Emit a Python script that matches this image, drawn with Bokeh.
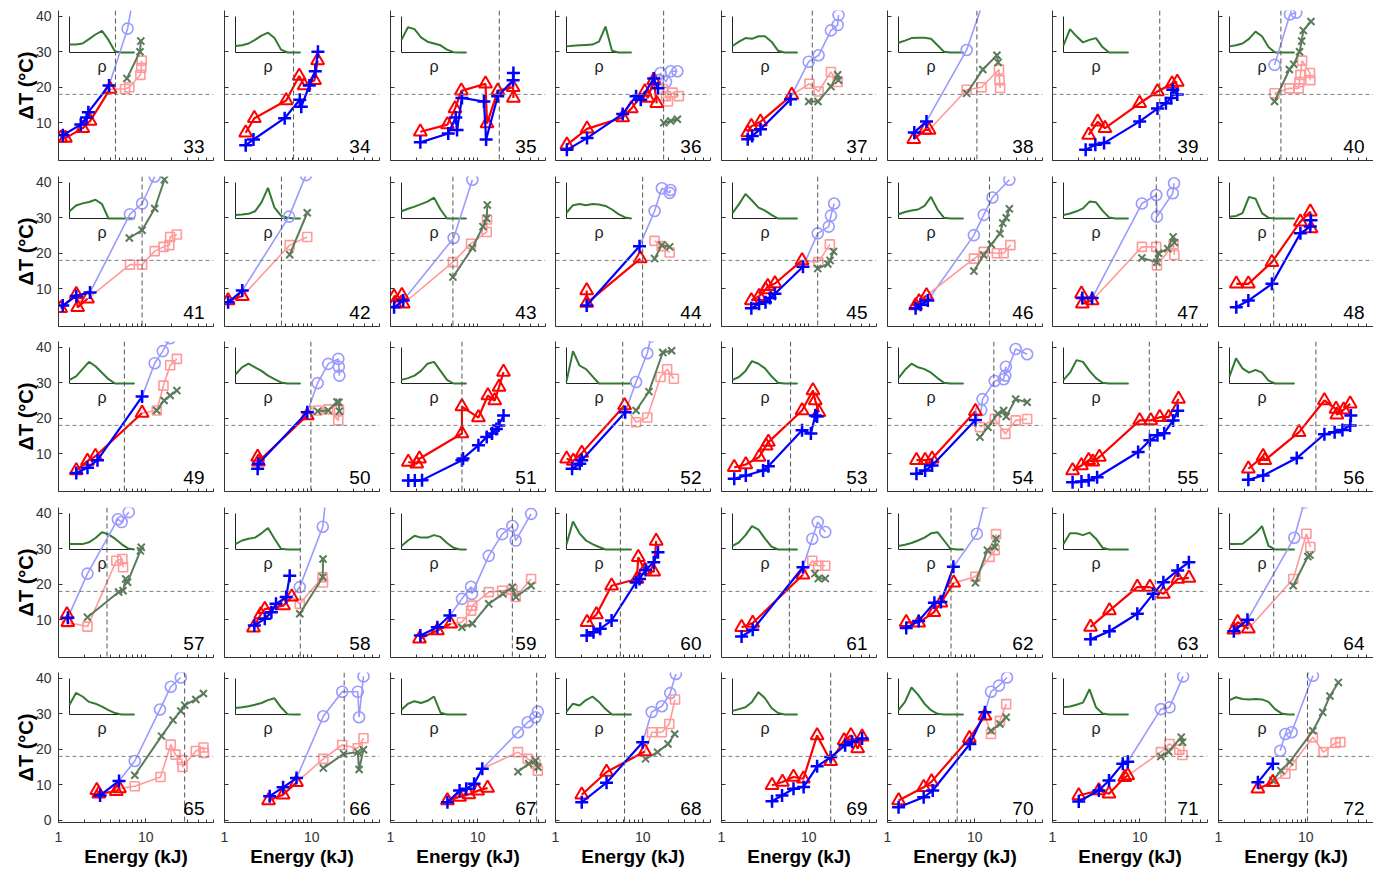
from bokeh.plotting import figure
from bokeh.layouts import gridplot
from bokeh.models import Range1d, LinearScale, FixedTicker, Span, Label, NumeralTickFormatter
from bokeh.embed import file_html
from bokeh.resources import INLINE

PANEL_IDS = [33, 34, 35, 36, 37, 38, 39, 40,
             41, 42, 43, 44, 45, 46, 47, 48,
             49, 50, 51, 52, 53, 54, 55, 56,
             57, 58, 59, 60, 61, 62, 63, 64,
             65, 66, 67, 68, 69, 70, 71, 72]
N_COLS = 8

# ---------------- red triangles ----------------
RED_E = {
    33: [1.06, 1.2, 1.9, 2.3, 3.9], 34: [1.75, 2.2, 5.1, 7.2, 8.2, 10.8, 11.7],
    35: [2.2, 4.5, 5.5, 6.5, 12.3, 12.8, 17, 25.5, 25.7], 36: [1.35, 2.3, 5.9, 7.4, 10.6, 11.5, 13.4, 14.5],
    37: [2.0, 2.2, 2.8, 6.4], 38: [2.0, 2.7, 3.0], 39: [2.6, 3.3, 4.0, 10, 16, 23.5, 27],
    41: [1.06, 1.6, 1.66, 2.15], 42: [1.1, 1.6], 43: [1.1, 1.12, 1.35, 1.4], 44: [2.28, 2.28, 9.4],
    45: [2.2, 2.7, 3.2, 3.4, 4.1, 8.4], 46: [2.1, 2.3, 2.8], 47: [2.15, 2.2, 2.85],
    48: [1.6, 2.2, 4.1, 8.7, 11.3, 11.5], 49: [1.6, 2.15, 2.65, 9.1], 50: [2.4, 2.45, 8.9],
    51: [1.6, 2.0, 2.15, 6.6, 6.6, 10.2, 13.1, 15.7, 17.6, 19.8], 52: [1.34, 1.6, 2.0, 6.2],
    53: [1.4, 1.9, 2.7, 3.25, 3.45, 8.4, 11.2, 11.9, 13.1], 54: [2.15, 2.7, 3.25, 10.2],
    55: [1.7, 2.15, 2.6, 2.9, 3.45, 10, 13.4, 17, 21.5, 27.9],
    56: [2.2, 3.25, 3.4, 8.4, 16.4, 22.3, 22.8, 27.3, 32.4], 57: [1.25, 1.28],
    58: [2.15, 2.6, 2.9, 4.75, 5.9], 59: [2.15, 3.45, 4.9],
    60: [2.3, 2.95, 4.4, 8.6, 8.9, 10.6, 13.4, 14.3], 61: [1.7, 2.28, 8.6],
    62: [1.64, 2.28, 3.4, 4.1, 5.75], 63: [2.73, 4.5, 9.4, 13.1, 18.7, 27.3, 36.7],
    64: [1.5, 1.66, 2.2], 65: [2.75, 2.9, 4.6, 5.0], 66: [3.2, 4.7, 6.7],
    67: [4.5, 6.2, 7.9, 10, 13], 68: [2.0, 3.85, 10.6],
    69: [3.8, 5.0, 6.7, 8.7, 12.5, 17.9, 25.5, 30.5, 36.5, 41], 70: [1.34, 2.6, 3.2, 8.7, 13.1],
    71: [2.0, 3.4, 4.45, 6.75, 7.3], 72: [2.83, 4.2],
}
RED_T = {
    33: [5.7, 5.7, 8.5, 10.5, 19.5], 34: [7.2, 11.3, 16.3, 23.2, 20.5, 22, 27.5],
    35: [7.5, 9.5, 14, 19, 21, 9.8, 19, 20, 17], 36: [3.8, 8.3, 11.5, 14, 18.8, 17, 22, 15.5],
    37: [7.3, 9, 10.3, 17.8], 38: [5.4, 8, 8], 39: [6.6, 10.3, 8.5, 15.5, 18.8, 21, 21.5],
    41: [4.5, 8.5, 4.8, 7.2], 42: [6.7, 7.9], 43: [7.8, 6, 8.2, 5.8], 44: [9.5, 6, 18.5],
    45: [6.7, 7.9, 9.8, 10.7, 11.5, 18], 46: [5.3, 6.4, 8.1], 47: [8.6, 5.8, 6.7],
    48: [11.4, 11.4, 17.5, 28.9, 31.7, 27], 49: [5.3, 8, 9.3, 21.5], 50: [9.1, 7.8, 20.8],
    51: [7.7, 7.2, 8.6, 15.7, 23.3, 20.2, 26.4, 25, 28.8, 33], 52: [8.6, 8, 10.2, 23.6],
    53: [6.2, 7, 9.1, 12.3, 13.3, 22.2, 27.8, 25, 21.7], 54: [8.2, 8.2, 8.6, 22],
    55: [5.3, 6.7, 8.2, 7.8, 9.1, 19.4, 19.4, 20.3, 20.3, 25.4],
    56: [5.8, 9.3, 8.2, 16.1, 25, 22.6, 21, 22.4, 24.1], 57: [11.5, 9.3],
    58: [7.8, 11.5, 13, 14, 16.5], 59: [4.7, 7, 8.9],
    60: [9.3, 11.5, 19.6, 21.5, 27.6, 24, 23.5, 32.2], 61: [7.9, 9.1, 22.7],
    62: [9.3, 9.2, 12.1, 14.8, 20.4], 63: [8, 12.6, 19.2, 19.2, 17.3, 21.5, 21.8],
    64: [7.2, 9.3, 7.5], 65: [8.5, 7.5, 8.2, 9.0], 66: [5.6, 7.2, 10.7],
    67: [5.6, 6.6, 7.3, 8.3, 9.1], 68: [7.2, 13.6, 19.4],
    69: [9.9, 10.8, 12.2, 11.7, 23.9, 16.6, 22.5, 23.9, 20.2, 23.5], 70: [5.6, 9.3, 10.9, 23.1, 29.4],
    71: [7, 8.4, 7.5, 12.1, 12.6], 72: [8.9, 10.7],
}

# ---------------- blue plus ----------------
BLUE_E = {
    33: [1.12, 1.8, 2.1, 2.2, 3.8], 34: [1.75, 2.15, 4.9, 7.3, 7.6, 9.4, 11.0, 11.8],
    35: [2.2, 4.6, 5.6, 5.8, 6.6, 11.8, 12.5, 17, 25.5, 25.7], 36: [1.35, 2.3, 5.9, 8.4, 9.5, 13.4, 15],
    37: [2.0, 2.25, 2.8, 6.2], 38: [2.03, 2.8], 39: [2.4, 3.1, 3.9, 10, 16, 20, 23, 24, 27],
    41: [1.12, 1.6, 2.3], 42: [1.1, 1.6], 43: [1.1, 1.4], 44: [2.28, 9.2],
    45: [2.2, 2.7, 3.2, 3.6, 4.1, 8.6], 46: [2.1, 2.4, 2.9], 47: [2.2, 2.85],
    48: [1.6, 2.2, 4.1, 8.7, 11.3, 11.5], 49: [1.6, 2.15, 2.8, 9.1], 50: [2.4, 2.45, 8.9],
    51: [1.6, 1.9, 2.3, 6.6, 6.8, 10.2, 12.7, 14.6, 16.4, 17.4, 19.8], 52: [1.55, 1.9, 2.0, 6.3],
    53: [1.4, 1.9, 3.0, 3.45, 8.4, 10.6, 11.9, 12.5], 54: [2.15, 2.7, 3.25, 10.2],
    55: [1.7, 2.15, 2.6, 3.25, 9.6, 13.1, 16, 19.1, 24.2, 27.3],
    56: [2.2, 3.25, 7.9, 16.4, 21.5, 26.4, 32.4, 33], 57: [1.28],
    58: [2.2, 2.9, 3.45, 3.9, 5.1, 5.6], 59: [2.2, 3.45, 4.8],
    60: [2.28, 2.73, 3.26, 4.4, 8.4, 9.2, 10.8, 13.4, 15], 61: [1.7, 2.28, 8.6],
    62: [1.64, 2.28, 3.45, 4.1, 5.7], 63: [2.73, 4.5, 9.4, 14.3, 18.7, 27.3, 36.7],
    64: [1.5, 2.15], 65: [3.0, 4.95], 66: [3.3, 4.7, 6.7], 67: [4.5, 6.2, 7.4, 9.1, 11.3],
    68: [2.0, 3.85, 10], 69: [3.8, 4.95, 6.7, 8.75, 12.5, 17.9, 26.2, 31.5, 41],
    70: [1.34, 2.6, 3.3, 8.8, 13.1], 71: [2.0, 3.4, 4.45, 6.4, 7.3], 72: [2.83, 4.2],
}
BLUE_T = {
    33: [6.5, 9.5, 11.5, 13, 20.5], 34: [3.7, 5.3, 11.3, 16.5, 14.5, 20.5, 24.5, 30],
    35: [4.5, 7, 11.5, 8, 17, 16, 5.3, 17.5, 22, 24], 36: [2.4, 5.7, 12.5, 17.5, 16.5, 22.5, 19.7],
    37: [5.4, 6.3, 8.2, 16.6], 38: [7.3, 10.4], 39: [2.4, 3.8, 4.3, 10.4, 14, 15.5, 17, 19.3, 18],
    41: [5.3, 8, 9], 42: [6.2, 9.5], 43: [4.8, 6.7], 44: [5.3, 22],
    45: [4.5, 5.8, 6.2, 7.4, 8.6, 16.2], 46: [4.5, 5.5, 6.7], 47: [7.4, 7.4],
    48: [4.8, 6.7, 11.4, 25.6, 27.5, 29.3], 49: [4.6, 6.1, 8.2, 26.1], 50: [5.8, 7.2, 21.7],
    51: [2.5, 2.5, 2.6, 8.2, 8.7, 12.4, 14.7, 15.7, 17, 18, 20.8], 52: [5.8, 7.2, 8.2, 21.7],
    53: [3, 3.9, 5.3, 6.5, 16.6, 15.7, 20.8, 20.5], 54: [4.4, 5.3, 6.7, 19.5],
    55: [2, 2.2, 2.6, 3.4, 10.5, 13.8, 15.2, 15.8, 19.4, 22.1],
    56: [2.7, 3.9, 8.8, 15.5, 16.1, 16.7, 18, 20.8], 57: [10.6],
    58: [8.4, 10.3, 12.1, 14.5, 16.4, 22.4], 59: [5.6, 7.9, 11.2],
    60: [5.6, 6.5, 7.5, 9.8, 20.6, 21.5, 24, 26.2, 29], 61: [5.3, 7.2, 24.8],
    62: [7.7, 9.7, 14.8, 15, 24.9], 63: [4.5, 6.8, 11.7, 17.3, 20.6, 23.9, 26.2],
    64: [6.8, 10], 65: [7, 11.1], 66: [6.8, 9.3, 11.9], 67: [5.1, 8.4, 8.9, 10.3, 14.5],
    68: [5.1, 10.6, 22], 69: [5.4, 7, 8.9, 9.4, 15.2, 17.8, 21.1, 22.1, 23],
    70: [3.7, 6.5, 8.4, 21.5, 30.4], 71: [5.3, 8.4, 11.2, 15.9, 16.5], 72: [10.7, 15.9],
}

# ---------------- light blue circles ----------------
LAV_E = {
    33: [6.2, 7.5], 36: [15, 16, 18.5, 21, 25], 37: [10, 13, 18, 21.5, 22], 38: [8.1, 12.5],
    40: [4.4, 6.6, 7.8], 41: [6.6, 9.1, 12.7], 42: [5.5, 8.6], 43: [5.3, 8.7],
    44: [13.7, 16.6, 20.4, 20.8], 45: [12.7, 17, 18, 19.6], 46: [9.8, 12.7, 16, 25],
    47: [10.6, 15.5, 15.8, 24, 24.8], 49: [12.7, 15.7, 19], 50: [11.7, 15.5, 20.2, 20.5, 20.8],
    52: [8.4, 11.3, 12.5], 54: [11.9, 12.3, 17, 21.5, 22.8, 22.5, 29.5, 40],
    57: [2.15, 4.8, 5.3, 6.4], 58: [7.3, 13.4, 14.5], 59: [6.6, 8.4, 8.6, 13.4, 19.1, 25, 27.3, 41],
    61: [11, 12.7, 15.5], 62: [10.6, 13], 64: [7.4, 9.6], 65: [7.5, 14.6, 19.4, 25.3],
    66: [13.6, 22.4, 33.8, 35, 39.3], 67: [29, 37.5, 46, 49], 68: [12.7, 16.6, 20.7, 24],
    70: [15.4, 19, 23.5], 71: [17.5, 22, 31.5], 72: [5.1, 5.85, 6.9, 12.1],
}
LAV_T = {
    33: [36.5, 48], 36: [22, 24, 21.5, 24.5, 24.5], 37: [27.2, 29, 36, 37.5, 40.3], 38: [30.5, 44],
    40: [26.3, 40.5, 41], 41: [31, 34, 41.6], 42: [30.3, 42], 43: [24.3, 40.7],
    44: [31.9, 38.3, 37, 37.8], 45: [25.6, 27.5, 30.6, 34], 46: [25.1, 30.8, 35.7, 40.7],
    47: [34, 36.4, 30.3, 36.9, 39.7], 49: [35.5, 38.9, 42.5], 50: [29.9, 35.3, 36.7, 34.5, 32],
    52: [30.2, 38.3, 43], 54: [22.3, 25.4, 30.5, 31, 34.5, 32, 39.5, 38],
    57: [23, 38.3, 37.5, 40.3], 58: [19.2, 36.2, 44], 59: [15.9, 19.3, 17.3, 28, 34.1, 36.4, 32.3, 39.8],
    61: [32.8, 37.5, 34.7], 62: [34.2, 43], 64: [33.1, 43], 65: [16.7, 31.2, 37.6, 40.2],
    66: [29.3, 36.2, 36.2, 29, 40.5], 67: [24.8, 27.6, 29, 30.6], 68: [30.5, 32.1, 35.8, 41.2],
    70: [36.2, 37.9, 40.2], 71: [31.3, 31.8, 40.5], 72: [19.6, 24.3, 24.8, 40.7],
}
LAV_FROM = {33: "blue", 37: "red", 38: "blue", 41: "blue", 42: "blue", 43: "blue", 44: "blue",
            45: "blue", 46: "blue", 47: "blue", 49: "blue", 50: "blue", 52: "blue", 54: "blue",
            57: "blue", 58: "red", 59: "blue", 61: "blue", 62: "blue", 64: "blue", 65: "blue",
            66: "blue", 67: "blue", 68: "blue", 70: "blue", 71: "blue"}

# ---------------- pink squares ----------------
PINK_E = {
    33: [5.8, 6.5, 8.7, 8.9, 9.0], 36: [17, 18.5, 19.5, 22, 26], 37: [10.2, 13, 18, 21.5],
    38: [8.1, 12, 19, 19.3, 19.6], 40: [4.4, 6.5, 8.3, 8.5, 8.7, 9.1, 11.2, 11.3],
    41: [6.6, 9.1, 12.7, 16, 18.7, 19.1, 22.8], 42: [5.6, 8.9], 43: [5.2, 8.4, 12.7, 12.8],
    44: [13.7, 16.5, 20.4], 45: [12.9, 17.5], 46: [9.8, 12.7, 18, 21.5, 25.7],
    47: [10.6, 15.5, 15.8, 24.5, 25], 49: [13.4, 16, 19.1, 22.8], 50: [11.7, 15.5, 20.2, 20.6],
    52: [8.4, 11.3, 16, 19.1, 22.8], 54: [11.5, 17, 22.5, 29.5, 40], 57: [1.25, 2.15, 4.6, 5.4, 5.5],
    58: [7.3, 13.3, 13.5], 59: [6.6, 8.4, 8.7, 13.4, 19.1, 25, 27.3, 41], 61: [11, 12.9, 15.5],
    62: [10.2, 14.8, 17, 17.6], 64: [7.2, 10.2, 11.3],
    65: [7.5, 14.8, 19.4, 22, 26, 26.5, 37.6, 46, 46.5], 66: [13.6, 22.4, 33.8, 39.3],
    67: [29, 37.5, 46, 49], 68: [12.8, 16.6, 20.2, 23.5], 70: [15.4, 19.5, 23],
    71: [17.5, 22, 28.5, 31], 72: [5.85, 6.9, 12.1, 16, 22, 25],
}
PINK_T = {
    33: [19.5, 20, 23.5, 25.5, 27.5], 36: [19.5, 17.5, 16, 18.5, 17.5], 37: [21, 18.8, 24.3, 21.5],
    38: [19.3, 20, 25, 22, 19.8], 40: [18.3, 19.7, 19.7, 21.5, 23.5, 27.5, 24, 22],
    41: [16.8, 16.8, 20.6, 21.8, 22.3, 24.6, 25.3], 42: [22.3, 24.6], 43: [17.5, 22.7, 26, 29.5],
    44: [23.5, 22, 20.2], 45: [17.5, 22.5], 46: [18.5, 20.4, 20, 20, 22.3],
    47: [21.8, 21.8, 16.6, 22.5, 19.5], 49: [22.2, 29.2, 34.9, 36.7], 50: [22.2, 22.5, 19.4, 22.3],
    52: [18.9, 20.2, 31.6, 33.8, 31.1], 54: [17.5, 19.8, 15.6, 19.4, 19.8], 57: [9.3, 8.1, 26.6, 27.1, 24.8],
    58: [14.5, 22, 20.5], 59: [9.3, 12.6, 14, 17.8, 18.2, 18.5, 16.4, 21.5], 61: [26.6, 25.2, 25.2],
    62: [22.1, 27.7, 29.6, 34.1], 64: [21.5, 34.2, 30.5],
    65: [9.6, 12.2, 21.3, 18.5, 17, 15, 19.5, 20.5, 19], 66: [17.3, 21.2, 20.3, 23.1],
    67: [19.2, 17.3, 15.9, 14], 68: [24.8, 24.8, 27.1, 34], 70: [24.3, 28, 32.7],
    71: [19.2, 21.5, 19.9, 18.4], 72: [13.1, 15.5, 23.4, 19.2, 21.8, 22],
}
PINK_FROM = {33: "red", 37: "red", 38: "red", 41: "red", 42: "red", 43: "red", 45: "red", 46: "red",
             47: "red", 49: "red", 52: "red", 58: "red", 59: "red", 61: "red", 62: "red", 64: "red",
             65: "red", 66: "red", 67: "blue", 68: "red", 70: "red", 71: "red", 72: "red"}

# ---------------- grey-green crosses ----------------
GREY_E = {
    33: [6.1, 8.6, 8.8], 36: [17.5, 21, 25], 37: [10, 12.8, 18, 21.5, 22], 38: [8.1, 12.4, 18, 18.6],
    40: [4.4, 6.5, 7.3, 8.5, 9.0, 9.4, 11.5], 41: [6.5, 9.1, 12.7, 16.4], 42: [5.6, 8.9],
    43: [5.2, 8.7, 11.5, 12.7, 12.9], 44: [13.7, 16.6, 20.4], 45: [12.7, 16.6, 17.6, 19.3],
    46: [9.8, 12.7, 15.5, 19.5, 21, 23, 25], 47: [10.6, 15.8, 16.5, 21, 24.2, 25],
    49: [13.4, 16.3, 19.1, 22.8], 50: [11.7, 15.5, 19.5, 20.5, 20.8], 52: [8.4, 11.8, 17, 21.5],
    54: [11.5, 14.2, 18.5, 21.5, 23, 29.5, 40], 57: [2.15, 4.9, 5.5, 5.9, 6.2, 8.7, 8.9],
    58: [7.3, 13.4, 13.5], 59: [6.6, 8.7, 13.4, 19.5, 25, 27.5, 41], 61: [11.8, 12.9, 15.5],
    62: [10.2, 14, 17, 17.6], 64: [7.2, 10.6, 11.2], 65: [7.5, 15.2, 20.6, 25.3, 28, 37.6, 46],
    66: [13.6, 23.3, 33.8, 35, 39.3], 67: [29, 38.5, 46, 49], 68: [10.8, 14.8, 19.5, 23.3],
    70: [15.4, 19.5, 23], 71: [17.5, 21.5, 30, 31], 72: [4.2, 5.2, 6.55, 12.1, 15.7, 19, 23.7],
}
GREY_T = {
    33: [22.5, 30, 33], 36: [10, 10.5, 11], 37: [16, 16, 20.2, 23.5, 22], 38: [18.3, 25, 29, 27],
    40: [16, 25, 26.5, 30, 33, 36, 38.5], 41: [24.3, 26.5, 32.6, 40.7], 42: [19.6, 31.4],
    43: [13.3, 21.5, 27.5, 29.8, 33.6], 44: [18.5, 22.3, 21.8], 45: [15.7, 17, 18, 20.5],
    46: [15, 19.5, 22.5, 25.5, 28.5, 30, 32.5], 47: [18.7, 17.5, 20, 21.3, 24.6, 23],
    49: [22.2, 25, 26.4, 27.8], 50: [22, 22.2, 24.6, 24.5, 22], 52: [22.2, 27.5, 38.5, 39],
    54: [14.7, 17.5, 21.3, 22.2, 20.5, 25.4, 24.5], 57: [10.7, 17.8, 18.2, 21.5, 20.6, 29.4, 30.4],
    58: [11.7, 22, 27.1], 59: [7.9, 8.9, 14.5, 17.3, 19.2, 16.4, 19.6], 61: [23, 21.6, 21.6],
    62: [20.4, 29.6, 30.5, 32.8], 64: [19.6, 27.8, 28.2], 65: [12.7, 23.7, 28.2, 30.8, 32.4, 34, 35.7],
    66: [14.7, 18.7, 19.2, 14.3, 19.9], 67: [13.7, 15.9, 16.8, 15], 68: [17.3, 19.2, 21.5, 24.3],
    70: [25.2, 27.1, 29], 71: [18, 19.3, 23.4, 22], 72: [11.2, 14, 16.4, 25.2, 30.4, 35, 38.8],
}

# ---------------- reference lines ----------------
VLINE_E = {33: 4.5, 34: 6.2, 35: 17.7, 36: 17.4, 37: 11, 38: 10.6, 39: 17, 40: 5.2,
           41: 9.1, 42: 4.5, 43: 5.2, 44: 10, 45: 12.7, 46: 14.8, 47: 15.5, 48: 4.3,
           49: 5.7, 50: 9.8, 51: 6.6, 52: 5.9, 53: 6.2, 54: 16.6, 55: 12.9, 56: 13.1,
           57: 3.6, 58: 7.4, 59: 25, 60: 5.55, 61: 6, 62: 5.35, 63: 15.1, 64: 4.3,
           65: 28, 66: 23.6, 67: 47.5, 68: 6.2, 69: 17.9, 70: 6.3, 71: 19.7, 72: 10.5}
HLINE_T = 18.0

# ---------------- inset density curves (rho) ----------------
DENSITY_T = [0.0, 0.1, 0.2, 0.3, 0.4, 0.5, 0.6, 0.7, 0.8, 0.9, 1.0]
DENSITY = {
    33: [0.22, 0.22, 0.25, 0.37, 0.5, 0.6, 0.35, 0.03, 0, 0, 0],
    34: [0.18, 0.2, 0.25, 0.35, 0.47, 0.55, 0.4, 0.08, 0, 0, 0],
    35: [0.35, 0.7, 0.65, 0.42, 0.3, 0.25, 0.2, 0.08, 0.01, 0, 0],
    36: [0.17, 0.19, 0.2, 0.21, 0.22, 0.3, 0.72, 0.05, 0, 0, 0],
    37: [0.18, 0.3, 0.4, 0.38, 0.45, 0.45, 0.3, 0.05, 0, 0, 0],
    38: [0.27, 0.33, 0.4, 0.41, 0.41, 0.38, 0.2, 0.02, 0, 0, 0],
    39: [0.2, 0.65, 0.45, 0.28, 0.35, 0.4, 0.15, 0, 0, 0, 0],
    40: [0.17, 0.2, 0.25, 0.38, 0.58, 0.45, 0.15, 0, 0, 0, 0],
    41: [0.2, 0.36, 0.42, 0.46, 0.52, 0.4, 0, 0, 0, 0, 0],
    42: [0.1, 0.11, 0.13, 0.2, 0.45, 0.85, 0.3, 0.08, 0.02, 0, 0],
    43: [0.2, 0.27, 0.33, 0.4, 0.47, 0.58, 0.25, 0, 0, 0, 0],
    44: [0.16, 0.37, 0.4, 0.37, 0.4, 0.39, 0.35, 0.25, 0.12, 0.03, 0],
    45: [0.15, 0.4, 0.68, 0.5, 0.3, 0.22, 0.1, 0, 0, 0, 0],
    46: [0.12, 0.18, 0.22, 0.25, 0.35, 0.6, 0.25, 0.02, 0, 0, 0],
    47: [0.1, 0.14, 0.2, 0.28, 0.47, 0.45, 0.22, 0.03, 0, 0, 0],
    48: [0.05, 0.07, 0.15, 0.6, 0.55, 0.15, 0.02, 0, 0, 0, 0],
    49: [0.1, 0.2, 0.4, 0.6, 0.48, 0.3, 0.12, 0, 0, 0, 0],
    50: [0.25, 0.45, 0.55, 0.45, 0.35, 0.22, 0.12, 0.03, 0, 0, 0],
    51: [0.1, 0.15, 0.22, 0.35, 0.55, 0.6, 0.35, 0.1, 0, 0, 0],
    52: [0.06, 0.9, 0.5, 0.4, 0.2, 0, 0, 0, 0, 0, 0],
    53: [0.1, 0.18, 0.35, 0.62, 0.55, 0.42, 0.2, 0.02, 0, 0, 0],
    54: [0.15, 0.38, 0.55, 0.45, 0.4, 0.3, 0.15, 0.02, 0, 0, 0],
    55: [0.1, 0.3, 0.65, 0.6, 0.35, 0.15, 0.02, 0, 0, 0, 0],
    56: [0.2, 0.7, 0.42, 0.3, 0.38, 0.3, 0.08, 0, 0, 0, 0],
    57: [0.15, 0.15, 0.15, 0.2, 0.32, 0.48, 0.42, 0.3, 0.15, 0.03, 0],
    58: [0.15, 0.25, 0.3, 0.33, 0.45, 0.6, 0.3, 0.02, 0, 0, 0],
    59: [0.1, 0.25, 0.38, 0.33, 0.33, 0.4, 0.35, 0.18, 0.05, 0, 0],
    60: [0.15, 0.78, 0.45, 0.25, 0.15, 0.07, 0, 0, 0, 0, 0],
    61: [0.1, 0.2, 0.4, 0.65, 0.55, 0.3, 0.08, 0, 0, 0, 0],
    62: [0.1, 0.13, 0.18, 0.25, 0.33, 0.45, 0.48, 0.25, 0.02, 0, 0],
    63: [0.15, 0.45, 0.45, 0.4, 0.47, 0.3, 0.05, 0, 0, 0, 0],
    64: [0.15, 0.15, 0.16, 0.3, 0.45, 0.65, 0.1, 0, 0, 0, 0],
    65: [0.27, 0.6, 0.5, 0.35, 0.3, 0.22, 0.12, 0.04, 0, 0, 0],
    66: [0.18, 0.2, 0.23, 0.27, 0.32, 0.4, 0.45, 0.2, 0.01, 0, 0],
    67: [0.13, 0.3, 0.37, 0.32, 0.38, 0.5, 0.05, 0, 0, 0, 0],
    68: [0.08, 0.3, 0.25, 0.4, 0.5, 0.35, 0.15, 0, 0, 0, 0],
    69: [0.1, 0.15, 0.2, 0.35, 0.62, 0.45, 0.18, 0.04, 0, 0, 0],
    70: [0.12, 0.35, 0.75, 0.55, 0.3, 0.12, 0.02, 0, 0, 0, 0],
    71: [0.2, 0.22, 0.27, 0.33, 0.7, 0.2, 0.03, 0, 0, 0, 0],
    72: [0.4, 0.48, 0.43, 0.42, 0.43, 0.42, 0.35, 0.15, 0.03, 0, 0],
}
INSET_AXIS_X = [0, 0, 1]
INSET_AXIS_Y = [1, 0, 0]

X_TICKS = [1, 10]
X_MINOR = [2, 3, 4, 5, 6, 7, 8, 9, 20, 30, 40, 50, 60]
Y_TICKS = [10, 20, 30, 40]
Y_TICKS_BOTTOM = [0, 10, 20, 30, 40]

# ---------------- styling / geometry ----------------
FONT = "Liberation Sans"
RED, BLUE, LAV, PINK, GREY, GREEN = "#ff0000", "#0000ff", "#9a9aff", "#ff9a9a", "#5b7b5b", "#327a32"
AXIS_COLOR = "#333333"
FW, FH = 155, 150
X_LO, X_HI = 1.0, 60.0
Y_LO, Y_HI = -0.6, 41.6
INSET_LEFT_PX, INSET_W_PX, INSET_BOTTOM_PX, INSET_H_PX = 11, 65, 108, 36
RIGHT_BORDERS = [5, 5, 4, 5, 5, 4, 5, 0]
BOTTOM_BORDERS = [14, 13, 14, 13, 48]


def make_panel(k, row, col, n_rows):
    last_row = row == n_rows - 1
    p = figure(x_axis_type="log", x_range=Range1d(X_LO, X_HI), y_range=Range1d(Y_LO, Y_HI),
               frame_width=FW, frame_height=FH, output_backend="svg", toolbar_location=None,
               min_border_left=58 if col == 0 else 6,
               min_border_right=RIGHT_BORDERS[col],
               min_border_top=10 if row == 0 else 2,
               min_border_bottom=BOTTOM_BORDERS[row],
               outline_line_color=None, background_fill_color="white", border_fill_color="white")
    p.grid.visible = False

    p.extra_x_ranges = {"inset": Range1d(-INSET_LEFT_PX / INSET_W_PX, (FW - INSET_LEFT_PX) / INSET_W_PX)}
    p.extra_x_scales = {"inset": LinearScale()}
    p.extra_y_ranges = {"inset": Range1d(-INSET_BOTTOM_PX / INSET_H_PX, (FH - INSET_BOTTOM_PX) / INSET_H_PX)}
    p.extra_y_scales = {"inset": LinearScale()}

    xa, ya = p.xaxis[0], p.yaxis[0]
    for ax in (xa, ya):
        ax.axis_line_color = AXIS_COLOR
        ax.major_tick_line_color = AXIS_COLOR
        ax.minor_tick_line_color = AXIS_COLOR
        ax.major_tick_in = 4
        ax.major_tick_out = 0
        ax.minor_tick_in = 3
        ax.minor_tick_out = 0
        ax.major_label_text_font = FONT
        ax.major_label_text_font_size = "14px"
        ax.major_label_text_color = "#333333"
        ax.axis_label_text_font = FONT
        ax.axis_label_text_font_style = "bold"
        ax.axis_label_text_font_size = "19px"
        ax.axis_label_text_color = "black"
    yt = Y_TICKS_BOTTOM if last_row else Y_TICKS
    if col == 0:
        ya.ticker = FixedTicker(ticks=yt, minor_ticks=[])
        ya.axis_label = "ΔT (°C)"
        ya.axis_label_text_font_size = "20px"
        ya.major_label_standoff = 7
        ya.axis_label_standoff = -4
    else:
        # tick marks only, no labels
        ya.ticker = FixedTicker(ticks=[], minor_ticks=yt)
        ya.minor_tick_in = 4
    if last_row:
        xa.ticker = FixedTicker(ticks=X_TICKS, minor_ticks=X_MINOR)
        xa.formatter = NumeralTickFormatter(format="0")
        xa.axis_label = "Energy (kJ)"
        xa.major_label_standoff = 9
        xa.axis_label_standoff = 1
    else:
        xa.ticker = FixedTicker(ticks=[], minor_ticks=X_TICKS + X_MINOR)

    # reference lines
    p.add_layout(Span(location=HLINE_T, dimension="width", line_color="#7f7f7f",
                      line_dash="4 3", line_width=1))
    p.add_layout(Span(location=VLINE_E[k], dimension="height", line_color="#555555",
                      line_dash="5 3", line_width=1))

    # inset
    p.line(INSET_AXIS_X, INSET_AXIS_Y, x_range_name="inset", y_range_name="inset",
           line_color="#222222", line_width=1)
    p.line(DENSITY_T, DENSITY[k], x_range_name="inset", y_range_name="inset",
           line_color=GREEN, line_width=2)
    p.add_layout(Label(x=0.5, y=-0.4, x_range_name="inset", y_range_name="inset", text="ρ",
                       text_align="center", text_baseline="alphabetic", text_font=FONT,
                       text_font_size="16px", text_color="#222222"))

    ends = {}
    if k in RED_E:
        ends["red"] = (RED_E[k][-1], RED_T[k][-1])
    if k in BLUE_E:
        ends["blue"] = (BLUE_E[k][-1], BLUE_T[k][-1])

    def pale(xs, ys, link, color, marker, size):
        lx, ly = list(xs), list(ys)
        if link in ends:
            lx = [ends[link][0]] + lx
            ly = [ends[link][1]] + ly
        p.line(lx, ly, line_color=color, line_width=1.6)
        p.scatter(xs, ys, marker=marker, size=size, line_color=color, fill_color=None, line_width=1.6)

    if k in LAV_E:
        pale(LAV_E[k], LAV_T[k], LAV_FROM.get(k), LAV, "circle", 11)
    if k in PINK_E:
        pale(PINK_E[k], PINK_T[k], PINK_FROM.get(k), PINK, "square", 9)
    if k in GREY_E:
        p.line(GREY_E[k], GREY_T[k], line_color=GREY, line_width=2)
        p.scatter(GREY_E[k], GREY_T[k], marker="x", size=10, line_color=GREY, line_width=2)
    if k in RED_E:
        p.line(RED_E[k], RED_T[k], line_color=RED, line_width=2.2)
        p.scatter(RED_E[k], RED_T[k], marker="triangle", size=13, line_color=RED,
                  fill_color=None, line_width=2)
    if k in BLUE_E:
        p.line(BLUE_E[k], BLUE_T[k], line_color=BLUE, line_width=2.2)
        p.scatter(BLUE_E[k], BLUE_T[k], marker="cross", size=13, line_color=BLUE, line_width=2.5)

    p.add_layout(Label(x=X_HI, y=3.4, x_offset=-9, text=str(k), text_align="right",
                       text_baseline="alphabetic", text_font=FONT, text_font_size="19px",
                       text_color="black"))
    return p


n_rows = len(PANEL_IDS) // N_COLS
rows = []
for r in range(n_rows):
    rows.append([make_panel(PANEL_IDS[r * N_COLS + c], r, c, n_rows) for c in range(N_COLS)])

grid = gridplot(rows, toolbar_location=None)
open("out.html", "w").write(file_html(grid, INLINE))
